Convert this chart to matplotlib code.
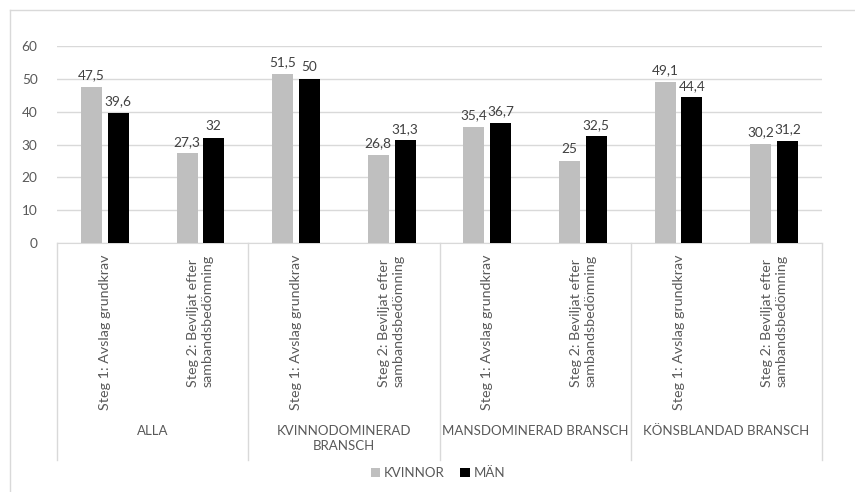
import matplotlib
matplotlib.use("Agg")
import matplotlib.pyplot as plt
from matplotlib.lines import Line2D
from matplotlib.transforms import blended_transform_factory
import numpy as np

plt.rcParams['font.family'] = ['Lato', 'DejaVu Sans']

# Data
steps = ['Steg 1: Avslag grundkrav', 'Steg 2: Beviljat efter\nsambandsbedömning'] * 4
groups = ['ALLA', 'KVINNODOMINERAD\nBRANSCH', 'MANSDOMINERAD BRANSCH', 'KÖNSBLANDAD BRANSCH']
kvinnor = [47.5, 27.3, 51.5, 26.8, 35.4, 25, 49.1, 30.2]
man = [39.6, 32, 50, 31.3, 36.7, 32.5, 44.4, 31.2]
series_names = ['KVINNOR', 'MÄN']

W, H = 855, 492
txt_col = '#595959'
grid_col = '#d9d9d9'

fig = plt.figure(figsize=(W / 100, H / 100), dpi=100)
# plot area in pixels: x 57..822, y 46..243
ax = fig.add_axes([57 / W, 1 - 243 / H, (822 - 57) / W, (243 - 46) / H])

x = np.arange(len(steps))
bw = 0.22
b1 = ax.bar(x - 0.14, kvinnor, bw, color='#bfbfbf', label=series_names[0], zorder=3)
b2 = ax.bar(x + 0.14, man, bw, color='#000000', label=series_names[1], zorder=3)

fmt = lambda v: f"{v:g}".replace('.', ',')
ax.bar_label(b1, labels=[fmt(v) for v in kvinnor], padding=4, fontsize=9.8, color='#404040')
ax.bar_label(b2, labels=[fmt(v) for v in man], padding=4, fontsize=9.8, color='#404040')

ax.set_xlim(-0.5, len(steps) - 0.5)
ax.set_ylim(0, 60)
ax.set_yticks(range(0, 61, 10))
ax.yaxis.grid(True, color=grid_col, linewidth=1, zorder=0)
ax.set_axisbelow(True)
ax.set_xticks([])
ax.tick_params(axis='y', length=0, labelsize=9.8, labelcolor=txt_col, pad=14)
for s in ['top', 'right', 'left']:
    ax.spines[s].set_visible(False)
ax.spines['bottom'].set_color(grid_col)

# category texts below axis
tr = blended_transform_factory(ax.transData, fig.transFigure)
fy = lambda py: 1 - py / H
for i, s in enumerate(steps):
    ax.text(i, fy(255), s, transform=tr, rotation=90, ha='center', va='top',
            multialignment='left', fontsize=10.3, color=txt_col, linespacing=1.25)
for g, name in enumerate(groups):
    ax.text(2 * g + 0.5, fy(425), name, transform=tr, ha='center', va='top',
            fontsize=9.5, color=txt_col, linespacing=1.3)
for xb in [-0.5, 1.5, 3.5, 5.5, 7.5]:
    ax.add_line(Line2D([xb, xb], [fy(243), fy(460)], transform=tr, color=grid_col,
                       linewidth=1, clip_on=False))

fig.legend(loc='center', bbox_to_anchor=(438 / W, fy(473)), ncol=2, frameon=False,
           fontsize=9.5, labelcolor=txt_col, handlelength=0.7, handleheight=0.7,
           handletextpad=0.3, columnspacing=1.2)

# chart border
fig.add_artist(Line2D([9.5 / W, 1], [fy(9.5), fy(9.5)], color=grid_col, linewidth=1))
fig.add_artist(Line2D([9.5 / W, 9.5 / W], [fy(9.5), 0], color=grid_col, linewidth=1))

fig.savefig('out.png', dpi=100)
